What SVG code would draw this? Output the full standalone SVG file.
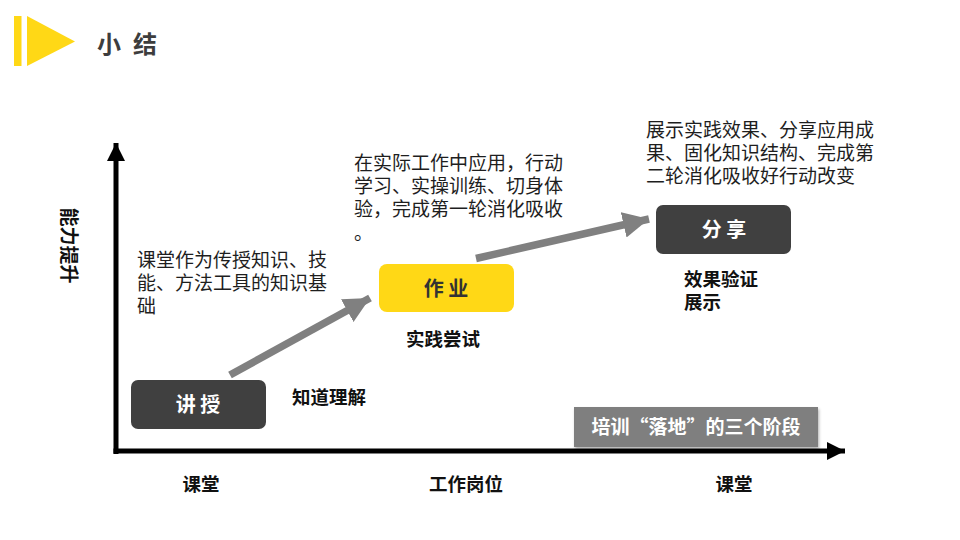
<svg xmlns="http://www.w3.org/2000/svg" width="960" height="540" viewBox="0 0 960 540">
  <defs>
    <style>
      text { font-family: "Noto Sans CJK SC", "Liberation Sans", sans-serif; }
      .body { font-size: 19px; fill: #1e1e1e; }
      .lab { font-size: 18.5px; font-weight: bold; fill: #111; }
      .btxt { font-size: 20px; font-weight: bold; text-anchor: middle; }
      .dark { fill: #404040; }
      .yel { fill: #FFD816; }
      .axis { stroke: #000; stroke-width: 5; fill: none; }
      .flow { stroke: #808080; stroke-width: 7.5; fill: none; }
    </style>
    <marker id="axh" markerUnits="userSpaceOnUse" markerWidth="20" markerHeight="20" viewBox="0 0 20 20" refX="18" refY="10" orient="auto">
      <polygon points="0,1 18,10 0,19" fill="#000"/>
    </marker>
    <marker id="flh" markerUnits="userSpaceOnUse" markerWidth="28" markerHeight="28" viewBox="0 0 28 28" refX="26" refY="14" orient="auto">
      <polygon points="0,1 26,14 0,27" fill="#808080"/>
    </marker>
    <filter id="sh" x="-10%" y="-20%" width="120%" height="150%">
      <feDropShadow dx="1" dy="2" stdDeviation="1.5" flood-color="#000" flood-opacity="0.3"/>
    </filter>
  </defs>
  <rect width="960" height="540" fill="#fff"/>

  <g id="header">
    <rect x="14" y="16" width="7.5" height="50" fill="#FFD816"/>
    <polygon points="27,16 75,41.5 27,66" fill="#FFD816"/>
    <text x="97" y="53" font-size="24" font-weight="bold" fill="#3d3d3d" letter-spacing="12">小结</text>
  </g>

  <g id="axes">
    <line class="axis" x1="116" y1="454" x2="116" y2="143" marker-end="url(#axh)"/>
    <line class="axis" x1="113.5" y1="451" x2="845" y2="451" marker-end="url(#axh)"/>
    <text x="70" y="245.5" font-size="19" font-weight="bold" fill="#111" text-anchor="middle" dominant-baseline="central" transform="rotate(90 70 245.5)">能力提升</text>
  </g>

  <g id="connectors">
    <line class="flow" x1="230" y1="375" x2="370" y2="298" marker-end="url(#flh)"/>
    <line class="flow" x1="476" y1="258.5" x2="649" y2="219" marker-end="url(#flh)"/>
  </g>

  <g id="node-jiangshou">
    <rect class="dark" x="131" y="380" width="135" height="49" rx="7"/>
    <text class="btxt" x="198" y="412" fill="#fff">讲 授</text>
  </g>
  <g id="node-zuoye">
    <rect class="yel" x="379" y="264" width="135" height="48" rx="8"/>
    <text class="btxt" x="446" y="296" fill="#333">作 业</text>
  </g>
  <g id="node-fenxiang">
    <rect class="dark" x="656" y="205" width="135" height="49" rx="7"/>
    <text class="btxt" x="724" y="237" fill="#fff">分 享</text>
  </g>

  <g id="desc-1">
    <text class="body" x="137" y="267">课堂作为传授知识、技</text>
    <text class="body" x="137" y="290">能、方法工具的知识基</text>
    <text class="body" x="137" y="313">础</text>
  </g>
  <g id="desc-2">
    <text class="body" x="354" y="170">在实际工作中应用，行动</text>
    <text class="body" x="354" y="193">学习、实操训练、切身体</text>
    <text class="body" x="354" y="216">验，完成第一轮消化吸收</text>
    <text class="body" x="354" y="240">。</text>
  </g>
  <g id="desc-3">
    <text class="body" x="646" y="137">展示实践效果、分享应用成</text>
    <text class="body" x="646" y="160">果、固化知识结构、完成第</text>
    <text class="body" x="646" y="183">二轮消化吸收好行动改变</text>
  </g>

  <g id="labels">
    <text class="lab" x="292" y="404">知道理解</text>
    <text class="lab" x="406" y="346">实践尝试</text>
    <text class="lab" x="684" y="286">效果验证</text>
    <text class="lab" x="684" y="309">展示</text>
    <text class="lab" x="201" y="491" text-anchor="middle">课堂</text>
    <text class="lab" x="466" y="491" text-anchor="middle">工作岗位</text>
    <text class="lab" x="734" y="491" text-anchor="middle">课堂</text>
  </g>

  <g id="stage-tag">
    <rect x="574" y="407" width="244" height="40" fill="#7f7f7f" filter="url(#sh)"/>
    <text x="696" y="434" font-size="19" font-weight="bold" fill="#fff" text-anchor="middle">培训“落地”的三个阶段</text>
  </g>
</svg>
